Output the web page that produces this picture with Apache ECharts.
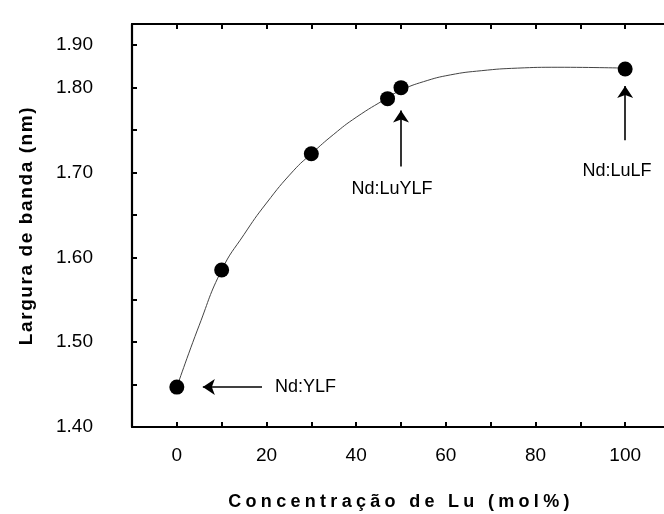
<!DOCTYPE html>
<html>
<head>
<meta charset="utf-8">
<script src="https://cdn.jsdelivr.net/npm/echarts@6/dist/echarts.min.js"></script>
<style>
html,body{margin:0;padding:0;background:#fff;}
#c{width:664px;height:514px;}
</style>
</head>
<body>
<div id="c"></div>
<script>
// Measured points
const xPts = [0, 10, 30, 47, 50, 100];
const yPts = [1.447, 1.585, 1.722, 1.787, 1.800, 1.822];

// Fitted curve
const fitX = [0, 5, 10, 15, 20, 26, 30, 35, 40, 47, 50, 55, 61, 68, 76, 85, 100];
const fitY = [1.447, 1.520, 1.585, 1.627, 1.664, 1.702, 1.722, 1.745, 1.765, 1.788, 1.797, 1.807, 1.815, 1.820, 1.823, 1.824, 1.823];

// Axis tick labels
const xLabelValues = [0, 20, 40, 60, 80, 100];
const xLabelTexts = ['0', '20', '40', '60', '80', '100'];
const yLabelValues = [1.40, 1.50, 1.60, 1.70, 1.80, 1.85];
const yLabelTexts = ['1.40', '1.50', '1.60', '1.70', '1.80', '1.90'];

// Annotations (data coordinates)
const annotNames = ['Nd:YLF', 'Nd:LuYLF', 'Nd:LuLF'];
const annotX = [28.7, 48, 98.2];
const annotY = [1.447, 1.680, 1.702];
const arrowFromX = [19, 50, 100];
const arrowFromY = [1.447, 1.707, 1.738];
const arrowToX = [5.8, 50, 100];
const arrowToY = [1.447, 1.773, 1.802];

const xTitle = 'Concentração de Lu (mol%)';
const yTitle = 'Largura de banda (nm)';

const FONT = "'Liberation Sans', Arial, Helvetica, sans-serif";

// wide letter spacing of the scanned axis titles only
(function () {
  const proto = CanvasRenderingContext2D.prototype;
  const orig = proto.fillText;
  proto.fillText = function (text, x, y, maxW) {
    let want = '0px';
    if (text === xTitle) want = '4.3px';
    else if (text === yTitle) want = '1.6px';
    if ('letterSpacing' in this && this.letterSpacing !== want) {
      const f = this.font;
      this.letterSpacing = want;
      this.font = f;
    }
    return maxW === undefined ? orig.call(this, text, x, y) : orig.call(this, text, x, y, maxW);
  };
})();

function labelFor(values, texts) {
  return function (v) {
    for (let i = 0; i < values.length; i++) {
      if (Math.abs(values[i] - v) < 1e-6) return texts[i];
    }
    return '';
  };
}
function line() { return { show: true, onZero: false, lineStyle: { color: '#000', width: 2.2 } }; }
function tick() { return { show: true, inside: true, length: 5, lineStyle: { color: '#000', width: 2 } }; }

const chart = echarts.init(document.getElementById('c'), null, { renderer: 'canvas' });

const option = {
  animation: false,
  backgroundColor: '#fff',
  grid: { left: 132, top: 24, right: -6, bottom: 87, containLabel: false, outerBoundsMode: 'none' },
  xAxis: [
    { type: 'value', min: -10, max: 110, interval: 10, position: 'bottom',
      axisLine: line(), axisTick: tick(),
      axisLabel: { show: true, formatter: labelFor(xLabelValues, xLabelTexts), margin: 19, color: '#000', fontSize: 19, fontFamily: FONT },
      splitLine: { show: false },
      name: xTitle, nameLocation: 'middle', nameGap: 66,
      nameTextStyle: { color: '#000', fontSize: 18, fontWeight: 'bold', fontFamily: FONT } },
    { type: 'value', min: -10, max: 110, interval: 10, position: 'top',
      axisLine: line(), axisTick: tick(), axisLabel: { show: false }, splitLine: { show: false } }
  ],
  yAxis: [
    { type: 'value', min: 1.40, max: 1.875, interval: 0.05, position: 'left',
      axisLine: line(), axisTick: tick(),
      axisLabel: { show: true, formatter: labelFor(yLabelValues, yLabelTexts), margin: 39, color: '#000', fontSize: 19, fontFamily: FONT },
      splitLine: { show: false },
      name: yTitle, nameLocation: 'middle', nameGap: 96, nameRotate: 90,
      nameTextStyle: { color: '#000', fontSize: 19, fontWeight: 'bold', fontFamily: FONT } },
    { type: 'value', min: 1.40, max: 1.875, interval: 0.05, position: 'right',
      axisLine: line(), axisTick: tick(), axisLabel: { show: false }, splitLine: { show: false } }
  ],
  series: [
    { name: 'fit', type: 'line', smooth: true, symbol: 'none',
      data: fitX.map((x, i) => [x, fitY[i]]),
      lineStyle: { color: '#444', width: 1 }, silent: true, z: 2 },
    { name: 'pontos', type: 'scatter', symbol: 'circle', symbolSize: 15,
      data: xPts.map((x, i) => [x, yPts[i]]),
      itemStyle: { color: '#000', opacity: 1 }, silent: true, z: 4 },
    { name: 'annot', type: 'scatter', symbolSize: 0,
      data: annotNames.map((n, i) => ({ name: n, value: [annotX[i], annotY[i]] })),
      itemStyle: { color: '#000', opacity: 1 },
      label: { show: true, position: 'inside', formatter: '{b}', color: '#000', fontSize: 18, fontFamily: FONT },
      silent: true, z: 5,
      markLine: { silent: true, symbol: ['none', 'arrow'], symbolSize: 12, label: { show: false },
        lineStyle: { color: '#000', width: 1.6, type: 'solid', opacity: 1 },
        emphasis: { disabled: true },
        data: arrowFromX.map((x, i) => [{ coord: [x, arrowFromY[i]] }, { coord: [arrowToX[i], arrowToY[i]] }]) } }
  ]
};
chart.setOption(option);
</script>
</body>
</html>
